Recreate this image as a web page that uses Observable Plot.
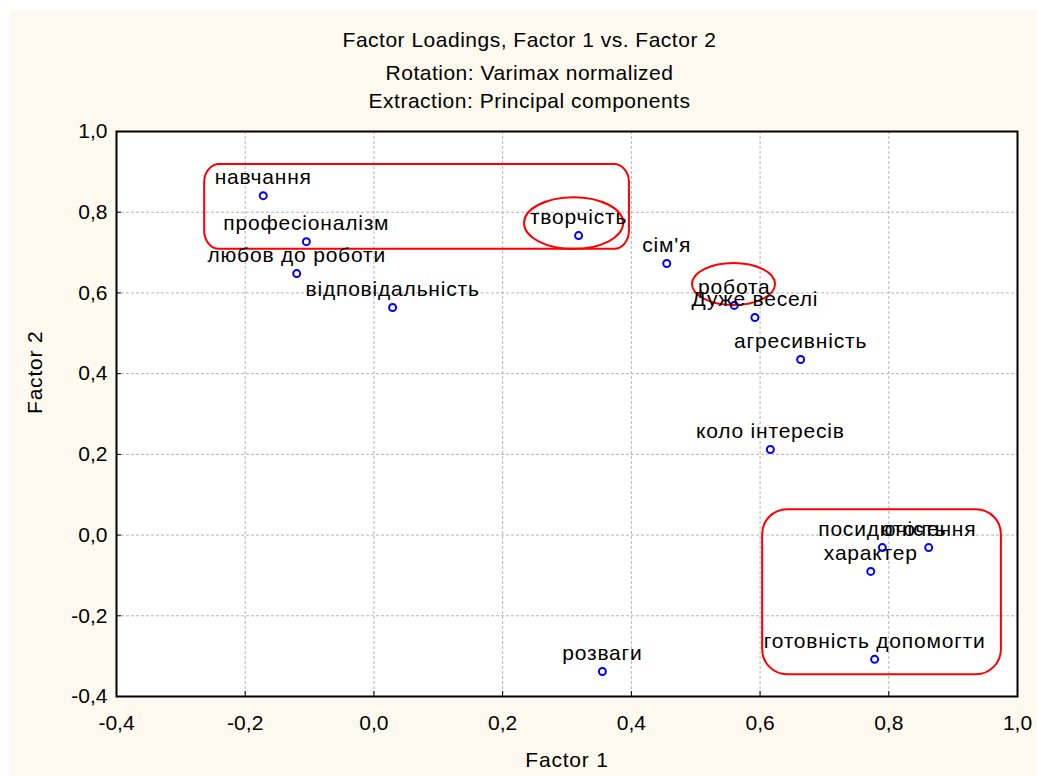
<!DOCTYPE html>
<html>
<head>
<meta charset="utf-8">
<script src="https://cdn.jsdelivr.net/npm/d3@7"></script>
<script src="https://cdn.jsdelivr.net/npm/@observablehq/plot@0.6"></script>
<style>
  html, body { margin: 0; padding: 0; background: #ffffff; }
  #bg { position: absolute; left: 10px; top: 11px; width: 1027px; height: 765px; background: #fef9ef; overflow: hidden; }
  .t { position: absolute; left: 0; width: 1039px; text-align: center; font-family: "Liberation Sans", Arial, sans-serif; font-size: 21px; line-height: 33px; color: #000; letter-spacing: 0.5px; }
  #chart { position: absolute; left: 0; top: 105px; }
  #chart g[aria-label="text"] text { letter-spacing: 0.8px; }
</style>
</head>
<body>
<div id="bg">
  <div class="t" style="top:12px">Factor Loadings, Factor 1 vs. Factor 2</div>
  <div class="t" style="top:45px">Rotation: Varimax normalized</div>
  <div class="t" style="top:73px">Extraction: Principal components</div>
  <div id="chart"></div>
</div>
<script>
// Variable names and their loadings
const labels = ["навчання", "професіоналізм", "любов до роботи", "відповідальність", "творчість", "сім'я", "робота", "Дуже веселі", "агресивність", "коло інтересів", "посидючість", "оточення", "характер", "готовність допомогти", "розваги"];
const factor1 = [-0.172, -0.105, -0.120, 0.029, 0.318, 0.455, 0.560, 0.592, 0.663, 0.616, 0.790, 0.862, 0.772, 0.778, 0.355];
const factor2 = [0.841, 0.727, 0.648, 0.564, 0.742, 0.673, 0.569, 0.539, 0.435, 0.212, -0.031, -0.031, -0.090, -0.308, -0.338];

// Axis ticks
const ticks = [-0.4, -0.2, 0.0, 0.2, 0.4, 0.6, 0.8, 1.0];

// Red annotation outlines (data coordinates)
const annoShape = ["rounded", "ellipse", "ellipse", "rounded"];
const annoX1 = [-0.263, 0.234, 0.495, 0.604];
const annoX2 = [0.397, 0.388, 0.624, 0.975];
const annoY1 = [0.708, 0.708, 0.569, -0.346];
const annoY2 = [0.918, 0.836, 0.673, 0.063];

const points = labels.map((name, i) => ({name, f1: factor1[i], f2: factor2[i]}));
const annos = annoShape.map((shape, i) => ({shape, x1: annoX1[i], x2: annoX2[i], y1: annoY1[i], y2: annoY2[i]}));

const fmt = d => d3.format(".1f")(d).replace(".", ",").replace("\u2212", "-");
const FONT = '"Liberation Sans", Arial, sans-serif';

const chart = Plot.plot({
  width: 1027,
  height: 660,
  marginLeft: 106,
  marginRight: 20,
  marginTop: 15,
  marginBottom: 80,
  style: {fontFamily: FONT, fontSize: "21px", background: "transparent", color: "#000", overflow: "visible"},
  x: {domain: [-0.4, 1.0], nice: false},
  y: {domain: [-0.4, 1.0], nice: false},
  marks: [
    Plot.frame({fill: "#ffffff"}),
    Plot.gridX(ticks, {stroke: "#b4b4b4", strokeOpacity: 1, strokeDasharray: "3,2"}),
    Plot.gridY(ticks, {stroke: "#b4b4b4", strokeOpacity: 1, strokeDasharray: "3,2"}),
    Plot.axisX(ticks, {tickSize: 0, tickPadding: 19, tickFormat: fmt, label: null}),
    Plot.axisY(ticks, {tickSize: 0, tickPadding: 9, tickFormat: fmt, label: null}),
    Plot.axisX(ticks, {tickSize: -5, tickFormat: () => "", label: null}),
    Plot.axisY(ticks, {tickSize: -5, tickFormat: () => "", label: null}),
    Plot.frame({stroke: "#000", strokeWidth: 2}),
    Plot.rect(annos.filter(d => d.shape === "rounded" && d.x1 < 0), {x1: "x1", x2: "x2", y1: "y1", y2: "y2", fill: "none", stroke: "#ff0000", strokeWidth: 2, rx: 15, ry: 18}),
    Plot.rect(annos.filter(d => d.shape === "rounded" && d.x1 > 0), {x1: "x1", x2: "x2", y1: "y1", y2: "y2", fill: "none", stroke: "#ff0000", strokeWidth: 2, rx: 25, ry: 25}),
    Plot.rect(annos.filter(d => d.shape === "ellipse"), {x1: "x1", x2: "x2", y1: "y1", y2: "y2", fill: "none", stroke: "#ff0000", strokeWidth: 2, rx: 999, ry: 999}),
    Plot.dot(points, {x: "f1", y: "f2", r: 3.5, stroke: "#0000ff", strokeWidth: 2, fill: "none"}),
    Plot.text(points, {x: "f1", y: "f2", text: "name", dy: -18, fill: "#000", fontSize: 21}),
    Plot.text(["Factor 1"], {text: d => d, frameAnchor: "bottom", dy: 70, fontSize: 21}),
    Plot.text(["Factor 2"], {text: d => d, frameAnchor: "left", rotate: -90, dx: -81, fontSize: 21})
  ]
});
document.getElementById("chart").appendChild(chart);
</script>
</body>
</html>
